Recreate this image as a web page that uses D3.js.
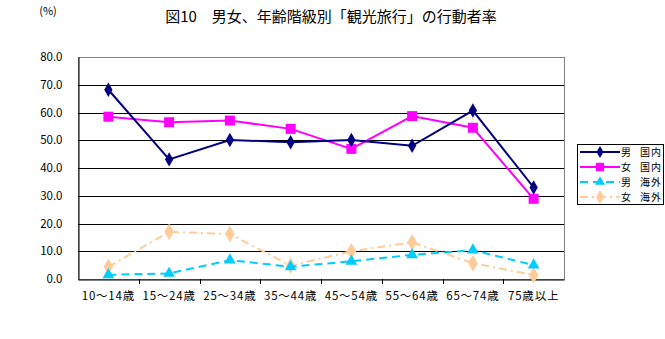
<!DOCTYPE html>
<html><head><meta charset="utf-8">
<script src="https://cdn.jsdelivr.net/npm/d3@7"></script>
<style>body{margin:0;background:#fff}svg{display:block}text{font-family:"Noto Sans CJK JP","Noto Sans",sans-serif}</style>
</head><body>
<script>
const categories = ["10～14歳","15～24歳","25～34歳","35～44歳","45～54歳","55～64歳","65～74歳","75歳以上"];
const maleDomestic   = [68.2, 43.1, 50.1, 49.3, 50.1, 48.0, 60.7, 33.0];
const femaleDomestic = [58.5, 56.5, 57.1, 54.1, 46.9, 58.7, 54.5, 28.9];
const maleOverseas   = [1.5, 2.0, 6.8, 4.4, 6.4, 8.7, 10.4, 5.0];
const femaleOverseas = [4.4, 17.0, 16.2, 4.8, 10.0, 13.2, 5.7, 1.4];
const yTicks = [0,10,20,30,40,50,60,70,80];
const seriesSex = ["男","女","男","女"];
const seriesPlace = ["国内","国内","海外","海外"];

const W=665,H=339;
const svg=d3.select("body").append("svg").attr("width",W).attr("height",H);
const L=78,R=564,T=57,B=279;
const x=d3.scaleBand().domain(categories).range([L,R]);
const y=d3.scaleLinear().domain([0,80]).range([B,T]);

svg.append("text").attr("x",331).attr("y",22).attr("text-anchor","middle").attr("font-size",15).text("図10　男女、年齢階級別「観光旅行」の行動者率");
svg.append("text").attr("x",48).attr("y",15).attr("text-anchor","middle").attr("font-size",11).text("(%)");

// frame
svg.append("rect").attr("x",L).attr("y",T).attr("width",R-L).attr("height",B-T).attr("fill","none").attr("stroke","#808080").attr("stroke-width",1).attr("shape-rendering","crispEdges");
// gridlines
svg.append("g").selectAll("line").data(yTicks.filter(d=>d>0&&d<80)).join("line")
 .attr("x1",L).attr("x2",R).attr("y1",d=>Math.round(y(d))+0.5).attr("y2",d=>Math.round(y(d))+0.5).attr("stroke","#000");
// y axis
const ya=svg.append("g").attr("transform",`translate(${L+0.5},0)`).call(d3.axisLeft(y).tickValues(yTicks).tickFormat(d3.format(".1f")).tickSize(0).tickPadding(16));
ya.select(".domain").attr("stroke","#000");
ya.selectAll("text").attr("font-size",11.5).attr("font-family","'Liberation Sans',Arial,sans-serif");
// x axis
const xa=svg.append("g").attr("transform",`translate(0,${B+0.5})`).call(d3.axisBottom(x).tickSize(0).tickPadding(12));
xa.select(".domain").attr("stroke","#000");
xa.selectAll("text").attr("font-size",11.5).attr("letter-spacing","0.8px");
svg.append("g").selectAll("line").data(categories.slice(1)).join("line")
 .attr("x1",d=>Math.round(x(d))+0.5).attr("x2",d=>Math.round(x(d))+0.5).attr("y1",B).attr("y2",B+5).attr("stroke","#000");

const cx=i=>x(categories[i])+x.bandwidth()/2;
const specs=[
 {data:maleDomestic,color:"#000080",dash:null,shape:d3.symbolDiamond,size:60,w:2},
 {data:femaleDomestic,color:"#FF00FF",dash:null,shape:d3.symbolSquare,size:100,w:2},
 {data:maleOverseas,color:"#00CCFF",dash:"8,5",shape:d3.symbolTriangle,size:60,w:2},
 {data:femaleOverseas,color:"#FFCC99",dash:"8,4,2,4",shape:d3.symbolDiamond,size:80,w:2}
];
const line=d3.line().x((d,i)=>cx(i)).y(d=>y(d));
specs.slice().reverse().forEach(s=>{
  svg.append("path").datum(s.data).attr("d",line).attr("fill","none").attr("stroke",s.color).attr("stroke-width",s.w).attr("stroke-dasharray",s.dash);
  svg.append("g").selectAll("path").data(s.data).join("path")
   .attr("transform",(d,i)=>`translate(${cx(i)},${y(d)})`).attr("d",d3.symbol(s.shape,s.size)).attr("fill",s.color);
});

// legend
const lg=svg.append("g");
lg.append("rect").attr("x",577.5).attr("y",144.5).attr("width",86).attr("height",60).attr("fill","#fff").attr("stroke","#000");
const rowsY=[152,167,182,197];
specs.forEach((s,i)=>{
  lg.append("line").attr("x1",580).attr("x2",620).attr("y1",rowsY[i]).attr("y2",rowsY[i]).attr("stroke",s.color).attr("stroke-width",2).attr("stroke-dasharray",s.dash);
  lg.append("path").attr("transform",`translate(600,${rowsY[i]})`).attr("d",d3.symbol(s.shape,s.size*0.7)).attr("fill",s.color);
  lg.append("text").attr("x",621).attr("y",rowsY[i]+4).attr("font-size",10).text(seriesSex[i]);
  lg.append("text").attr("x",640).attr("y",rowsY[i]+4).attr("font-size",10).attr("letter-spacing","1px").text(seriesPlace[i]);
});
</script>
</body></html>
